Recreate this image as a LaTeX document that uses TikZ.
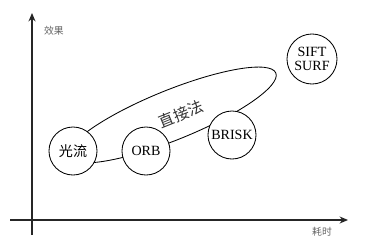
\documentclass[tikz,border=0pt]{standalone}
\usepackage{fontspec}
\setmainfont{Liberation Serif}
\newfontfamily\zhfont{Noto Sans CJK SC}
\usetikzlibrary{positioning, arrows.meta, backgrounds}

\begin{document}
\begin{tikzpicture}[
    x=0.025cm, y=-0.025cm,
    algo/.style={draw, circle, fill=white, minimum size=1.2cm, inner sep=0pt, align=center, line width=0.6pt, font=\fontsize{10}{10.5}\selectfont},
    axis/.style={-{Stealth[length=6pt, width=5pt]}, line width=0.8pt, black!85},
    axlbl/.style={font=\zhfont\fontsize{7}{8}\selectfont, black!60},
    loop/.style={draw, line width=0.6pt},
  ]
  \useasboundingbox (0,0) rectangle (368,251);

  % Axes
  \coordinate (xstart) at (10,220);
  \coordinate (xend) at (348,220);
  \coordinate (ystart) at (32,235);
  \coordinate (yend) at (32,13);
  \draw[axis] (xstart) -- (xend);
  \draw[axis] (ystart) -- (yend);
  \node[axlbl] (effect) at (54,31) {效果};
  \node[axlbl] (cost) at (322,232) {耗时};

  % Methods
  \node[algo] (flow) at (73,151) {\zhfont 光流};
  \node[algo] (orb) at (146,151) {ORB};
  \node[algo] (brisk) at (232,135) {BRISK};
  \node[algo, minimum size=1.25cm] (sift) at (312,59) {SIFT\\SURF};

  % Direct methods group
  \begin{scope}[on background layer]
    \coordinate (direct) at (172,115);
    \draw[loop, rotate around={22:(direct)}] (direct) ellipse (112 and 25);
  \end{scope}
  \node[font=\zhfont\fontsize{11}{12}\selectfont, black!80, rotate=22, inner sep=1pt] (directlbl) at (181,114) {直接法};
\end{tikzpicture}
\end{document}
